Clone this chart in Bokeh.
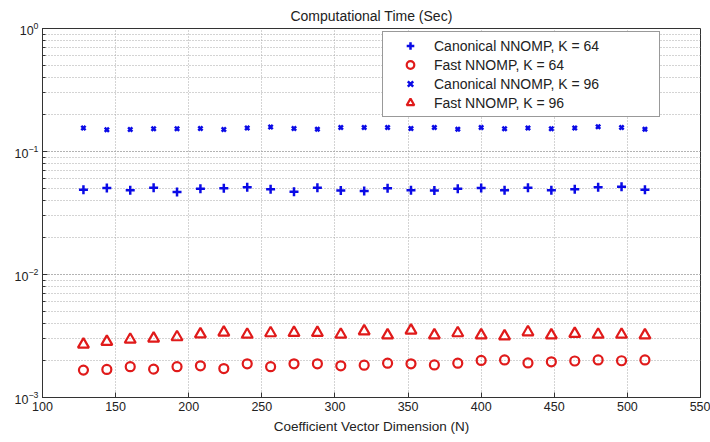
from bokeh.plotting import figure
from bokeh.models import Legend, LegendItem, FixedTicker, Range1d
from bokeh.embed import file_html
from bokeh.resources import INLINE

N = [128, 144, 160, 176, 192, 208, 224, 240, 256, 272, 288, 304, 320,
     336, 352, 368, 384, 400, 416, 432, 448, 464, 480, 496, 512]

canon_k64 = [0.0489, 0.0505, 0.0485, 0.0508, 0.0468, 0.0498, 0.0502, 0.0511, 0.0493,
             0.0471, 0.0508, 0.0481, 0.0478, 0.0502, 0.0485, 0.0481, 0.0498, 0.0505,
             0.0485, 0.0508, 0.0485, 0.0493, 0.0511, 0.0517, 0.0489]

canon_k96 = [0.155, 0.150, 0.151, 0.153, 0.153, 0.154, 0.151, 0.155, 0.158,
             0.154, 0.152, 0.157, 0.157, 0.157, 0.154, 0.157, 0.152, 0.157,
             0.153, 0.155, 0.153, 0.155, 0.159, 0.157, 0.152]

fast_k64 = [0.00167, 0.00169, 0.00178, 0.00170, 0.00178, 0.00181, 0.00172, 0.00188,
            0.00178, 0.00188, 0.00188, 0.00181, 0.00183, 0.00190, 0.00188, 0.00184,
            0.00190, 0.00200, 0.00202, 0.00191, 0.00195, 0.00198, 0.00202, 0.00199,
            0.00202]

fast_k96 = [0.00270, 0.00284, 0.00296, 0.00302, 0.00310, 0.00327, 0.00338, 0.00325,
            0.00334, 0.00336, 0.00336, 0.00325, 0.00346, 0.00321, 0.00351, 0.00321,
            0.00334, 0.00321, 0.00315, 0.00340, 0.00321, 0.00330, 0.00325, 0.00325,
            0.00321]

labels = ["Canonical NNOMP, K = 64", "Fast NNOMP, K = 64",
          "Canonical NNOMP, K = 96", "Fast NNOMP, K = 96"]
x_ticks = [100, 150, 200, 250, 300, 350, 400, 450, 500, 550]

FONT = "Liberation Sans"
BLUE = "#0a0ae6"
RED = "#e01a1a"
INK = "#222222"

p = figure(width=710, height=442, x_axis_type="linear", y_axis_type="log",
           x_range=Range1d(100, 550), y_range=Range1d(1e-3, 1),
           output_backend="svg", toolbar_location=None,
           title="Computational Time (Sec)")
p.min_border_left = 42
p.min_border_right = 10
p.min_border_top = 4
p.min_border_bottom = 45

p.title.align = "center"
p.title.text_font = FONT
p.title.text_font_size = "14px"
p.title.text_font_style = "normal"
p.title.text_color = INK
p.title.offset = 0

p.outline_line_color = "#333333"
p.outline_line_width = 1
p.background_fill_color = "white"
p.border_fill_color = "white"

# grids
p.xgrid.ticker = FixedTicker(ticks=x_ticks)
for g in (p.xgrid, p.ygrid):
    g.grid_line_color = "#a8a8a8"
    g.grid_line_dash = "1 2"
    g.grid_line_width = 1
p.ygrid.minor_grid_line_color = "#a8a8a8"
p.ygrid.minor_grid_line_dash = "1 2"

# axes
xa = p.xaxis[0]
xa.ticker = FixedTicker(ticks=x_ticks)
xa.axis_label = "Coefficient Vector Dimension (N)"
ya = p.yaxis[0]

for ax in (xa, ya):
    ax.major_tick_in = 5
    ax.major_tick_out = 0
    ax.minor_tick_in = 3
    ax.minor_tick_out = 0
    ax.axis_line_color = "#333333"
    ax.major_tick_line_color = "#333333"
    ax.minor_tick_line_color = "#333333"
    ax.major_label_text_font = FONT
    ax.major_label_text_font_size = "12.5px"
    ax.major_label_text_color = INK
    ax.axis_label_text_font = FONT
    ax.axis_label_text_font_size = "13.5px"
    ax.axis_label_text_font_style = "normal"
    ax.axis_label_text_color = INK
xa.major_label_standoff = 4
xa.axis_label_standoff = 5
ya.major_label_standoff = 4

r1 = p.scatter(N, canon_k64, marker="cross", size=9, line_color=BLUE, line_width=2.5)
r2 = p.scatter(N, fast_k64, marker="circle", size=9, line_color=RED, fill_color=None, line_width=2.2)
r3 = p.scatter(N, canon_k96, marker="x", size=6, line_color=BLUE, line_width=2.5)
r4 = p.scatter(N, fast_k96, marker="triangle", size=11, line_color=RED, fill_color=None, line_width=2.2)

legend = Legend(items=[LegendItem(label=l, renderers=[r]) for l, r in zip(labels, [r1, r2, r3, r4])],
                location=(340, 280))
legend.label_text_font = FONT
legend.label_text_font_size = "14px"
legend.label_text_color = INK
legend.border_line_color = "#333333"
legend.border_line_width = 1
legend.background_fill_color = "white"
legend.background_fill_alpha = 1
legend.padding = 4
legend.spacing = 0
legend.glyph_width = 46
legend.glyph_height = 19
legend.label_height = 19
legend.label_standoff = 1
legend.label_width = 221
legend.margin = 0
p.add_layout(legend, "center")

open("out.html", "w").write(file_html(p, INLINE))
